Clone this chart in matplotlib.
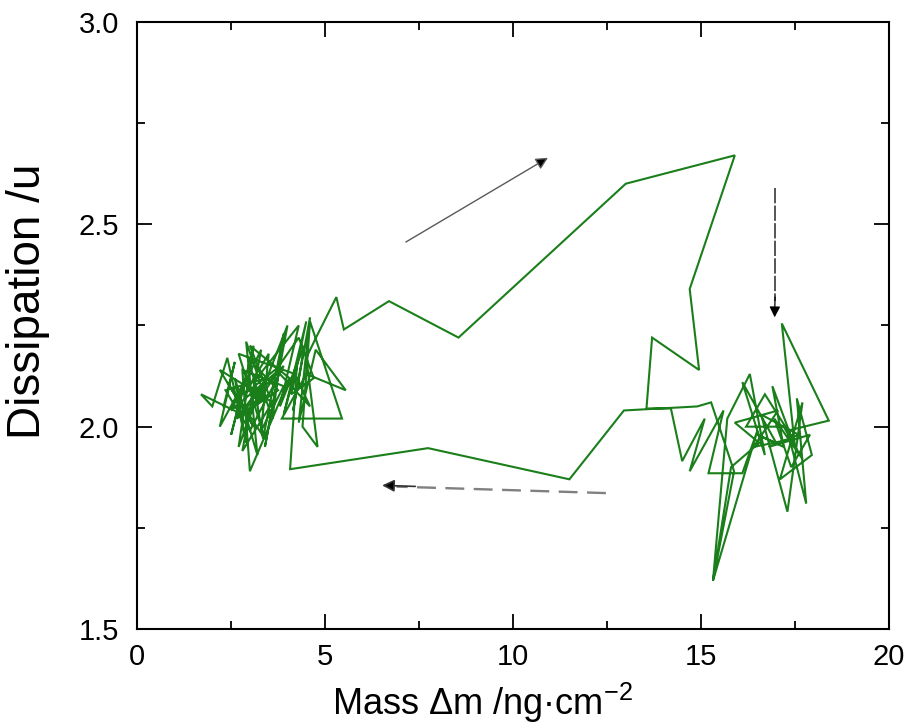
import matplotlib
matplotlib.use("Agg")
import matplotlib.pyplot as plt
from matplotlib.ticker import MultipleLocator

plt.rcParams["font.family"] = ["Liberation Sans", "DejaVu Sans"]
plt.rcParams["mathtext.fontset"] = "custom"
plt.rcParams["mathtext.rm"] = "Liberation Sans"
plt.rcParams["mathtext.it"] = "Liberation Sans:italic"

# Mass change (ng/cm^2) and dissipation (u) along the measurement trajectory
left_start_x = [2.3, 2.6, 2.2, 2.9, 2.5, 3.1, 2.7, 3.3, 2.8, 1.7, 2.0, 2.4, 2.9, 2.6,
                3.2, 2.9, 3.6, 3.0, 2.8, 3.9, 3.3, 3.5, 2.85, 3.8, 3.4, 4.0, 3.2, 3.7,
                2.6, 3.5, 3.0, 4.05, 3.6, 3.9, 3.35, 3.1, 4.3, 3.8, 4.45, 4.15, 4.6,
                4.3, 4.75, 5.55, 4.5, 3.85, 5.45, 4.6, 4.4, 4.8, 4.5, 4.76]
left_start_y = [2.05, 2.16, 2.00, 2.12, 1.98, 2.20, 1.95, 2.10, 2.03, 2.08, 2.05, 2.17,
                1.96, 2.12, 1.93, 2.21, 2.02, 1.89, 2.14, 2.10, 1.99, 2.18, 2.08, 2.15,
                1.95, 2.25, 2.06, 2.13, 2.02, 2.08, 2.20, 2.12, 2.02, 2.23, 1.97, 2.11,
                2.25, 2.05, 2.20, 2.04, 2.27, 2.01, 2.19, 2.09, 2.13, 2.02, 2.02, 2.26,
                2.00, 1.95, 2.17, 2.22]
loop_x = [5.3, 5.5, 6.7, 8.55, 13.0, 15.9, 14.7, 14.95, 13.7, 13.55]
loop_y = [2.32, 2.24, 2.31, 2.22, 2.60, 2.67, 2.34, 2.14, 2.22, 2.045]
right_x = [14.2, 14.5, 15.1, 14.7, 15.6, 15.2, 16.1, 16.5, 15.32, 15.7, 16.3, 16.7,
           16.1, 17.0, 16.5, 17.2, 16.9, 17.5, 17.15, 18.4, 17.3, 17.8, 17.55, 17.95,
           17.1, 17.7, 17.3, 16.6, 17.6, 16.8, 17.9, 17.4, 16.95, 17.7, 17.2, 16.2,
           16.7, 17.45, 16.4, 17.05, 15.9, 16.55,
           15.8, 15.32, 15.88, 15.27, 14.9]
right_y = [2.045, 1.915, 2.02, 1.89, 2.04, 1.885, 1.885, 1.99, 1.62, 2.02, 2.13, 1.93,
           2.11, 1.96, 1.98, 1.95, 2.10, 1.95, 2.255, 2.015, 1.99, 1.81, 2.07, 1.93,
           1.87, 2.06, 1.79, 2.03, 1.98, 1.95, 1.98, 1.90, 2.02, 1.92, 2.00, 2.00,
           2.08, 1.97, 1.95, 2.04, 2.01, 1.96,
           1.90, 1.62, 1.89, 2.06, 2.05]
return_x = [12.95, 11.5, 7.74, 4.07]
return_y = [2.04, 1.87, 1.947, 1.895]
left_end_x = [4.25, 3.9, 4.5, 4.1, 4.7, 4.3, 3.7, 4.6, 4.2, 2.7, 3.4, 2.4, 3.1, 2.2,
              3.6, 2.8, 3.3, 2.5, 3.9, 3.0, 2.35, 3.45, 2.65, 3.75, 2.95, 3.25]
left_end_y = [2.15, 2.03, 2.26, 2.08, 2.12, 2.22, 2.14, 2.05, 2.13, 2.18, 1.97, 2.11,
              2.00, 2.14, 2.06, 1.94, 2.19, 2.04, 2.15, 1.99, 2.09, 2.12, 2.02, 2.09,
              2.17, 2.07]

mass = left_start_x + loop_x + right_x + return_x + left_end_x
dissipation = left_start_y + loop_y + right_y + return_y + left_end_y

x_ticks = [0, 5, 10, 15, 20]
y_ticks = [1.5, 2.0, 2.5, 3.0]

fig = plt.figure(figsize=(9.08, 7.24), dpi=100)
ax = fig.add_axes([0.151, 0.131, 0.828, 0.839])

ax.plot(mass, dissipation, color="#1a7f1a", lw=1.5, solid_joinstyle="miter")

# direction arrows
ax.annotate("", xy=(10.93, 2.664), xytext=(7.15, 2.456),
            arrowprops=dict(arrowstyle="-|>", lw=1.0, ec="0.35", fc="black",
                            mutation_scale=18, shrinkA=0, shrinkB=0))
ax.plot([16.97, 16.97], [2.59, 2.31], color="0.15", lw=1.1, dashes=(10, 1.5))
ax.annotate("", xy=(16.96, 2.27), xytext=(16.97, 2.32),
            arrowprops=dict(arrowstyle="-|>", lw=0.9, ec="black", fc="black",
                            mutation_scale=16, shrinkA=0, shrinkB=0))
ax.plot([12.47, 6.9], [1.836, 1.852], color="0.5", lw=1.7, dashes=(8, 4))
ax.annotate("", xy=(6.52, 1.855), xytext=(7.4, 1.8525),
            arrowprops=dict(arrowstyle="-|>", lw=1.2, ec="0.2", fc="black",
                            mutation_scale=18, shrinkA=0, shrinkB=0))

ax.set_xlim(0, 20)
ax.set_ylim(1.5, 3.0)
ax.set_xticks(x_ticks)
ax.set_yticks(y_ticks)
ax.set_yticklabels([f"{v:.1f}" for v in y_ticks])
ax.xaxis.set_minor_locator(MultipleLocator(2.5))
ax.yaxis.set_minor_locator(MultipleLocator(0.25))
ax.tick_params(which="both", direction="in", top=True, right=True, width=1.3,
               labelsize=21)
ax.tick_params(axis="x", pad=10)
ax.tick_params(axis="y", pad=13)
ax.tick_params(which="major", length=11)
ax.tick_params(which="minor", length=5.5)
for s in ax.spines.values():
    s.set_linewidth(1.5)

ax.set_xlabel("Mass \u0394m /ng\u00b7cm$^{-2}$", fontsize=26)
ax.xaxis.set_label_coords(0.459, -0.085)
ax.set_ylabel("Dissipation /u", fontsize=33)
ax.yaxis.set_label_coords(-0.116, 0.539)

fig.savefig("out.png", dpi=100)
